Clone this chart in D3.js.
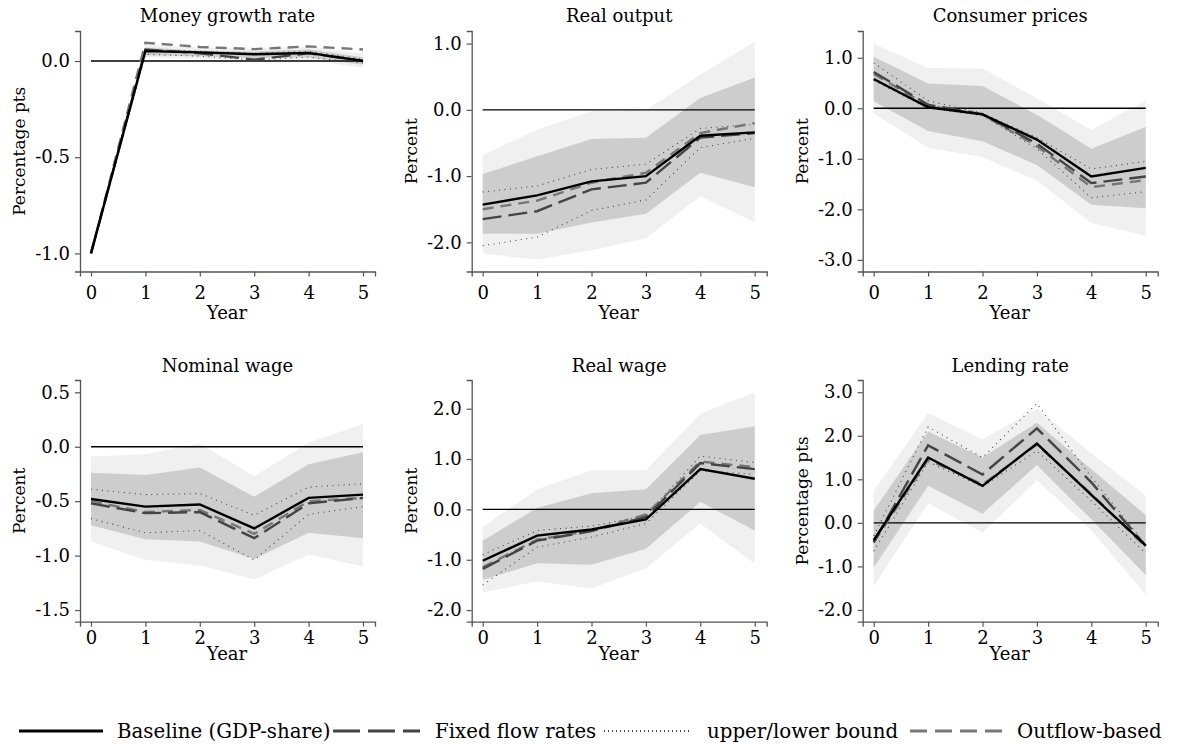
<!DOCTYPE html>
<html>
<head>
<meta charset="utf-8">
<script src="https://cdn.jsdelivr.net/npm/d3@7"></script>
<style>
  body { margin: 0; background: #fff; }
  text { font-family: "DejaVu Serif", serif; fill: #000; }
</style>
</head>
<body>
<div id="chart"></div>
<script>
// ---- data ----
const years = [0, 1, 2, 3, 4, 5];
const titles = ["Money growth rate", "Real output", "Consumer prices",
                "Nominal wage", "Real wage", "Lending rate"];
const yTitles = ["Percentage pts", "Percent", "Percent",
                 "Percent", "Percent", "Percentage pts"];
const yTicks = [
    [-1.0, -0.5, 0.0],
    [-2.0, -1.0, 0.0, 1.0],
    [-3.0, -2.0, -1.0, 0.0, 1.0],
    [-1.5, -1.0, -0.5, 0.0, 0.5],
    [-2.0, -1.0, 0.0, 1.0, 2.0],
    [-2.0, -1.0, 0.0, 1.0, 2.0, 3.0]
];
const yDomains = [
    [-1.094, 0.156], [-2.44, 1.19], [-3.23, 1.53],
    [-1.607, 0.613], [-2.23, 2.57], [-2.27, 3.28]
];

// one row per panel, values for years 0..5
const baseline = [
    [-1.0, 0.052, 0.045, 0.035, 0.042, 0.0],
    [-1.43, -1.29, -1.08, -1.0, -0.39, -0.34],
    [0.58, 0.02, -0.12, -0.62, -1.35, -1.18],
    [-0.48, -0.55, -0.53, -0.75, -0.47, -0.44],
    [-1.02, -0.52, -0.4, -0.2, 0.8, 0.61],
    [-0.4, 1.5, 0.85, 1.82, 0.64, -0.52]
];
const fixedFlow = [
    [-1.0, 0.06, 0.04, 0.007, 0.04, 0.0],
    [-1.65, -1.53, -1.2, -1.1, -0.42, -0.35],
    [0.72, 0.07, -0.12, -0.7, -1.48, -1.35],
    [-0.52, -0.61, -0.6, -0.84, -0.52, -0.47],
    [-1.18, -0.62, -0.43, -0.15, 0.92, 0.8],
    [-0.45, 1.78, 1.11, 2.17, 0.93, -0.53]
];
const outflow = [
    [-1.0, 0.095, 0.073, 0.062, 0.076, 0.06],
    [-1.5, -1.37, -1.1, -0.95, -0.35, -0.2],
    [0.68, 0.05, -0.12, -0.75, -1.56, -1.42],
    [-0.5, -0.6, -0.58, -0.8, -0.5, -0.47],
    [-1.15, -0.6, -0.42, -0.1, 0.95, 0.84],
    [-0.45, 1.45, 0.88, 1.8, 0.66, -0.55]
];
const boundUpper = [
    [-0.99, 0.06, 0.05, 0.04, 0.05, 0.01],
    [-1.24, -1.15, -0.9, -0.82, -0.28, -0.22],
    [0.9, 0.15, -0.1, -0.58, -1.2, -1.05],
    [-0.39, -0.44, -0.43, -0.63, -0.37, -0.34],
    [-0.9, -0.42, -0.33, -0.12, 1.06, 0.93],
    [-0.3, 2.2, 1.5, 2.74, 1.05, -0.5]
];
const boundLower = [
    [-1.0, 0.035, 0.025, 0.005, 0.02, -0.01],
    [-2.05, -1.92, -1.52, -1.36, -0.57, -0.43],
    [0.55, 0.0, -0.14, -0.8, -1.77, -1.65],
    [-0.66, -0.79, -0.77, -1.04, -0.62, -0.55],
    [-1.5, -0.75, -0.55, -0.28, 0.77, 0.7],
    [-0.65, 1.4, 0.83, 1.65, 0.5, -0.7]
];
const innerHi = [
    [-0.99, 0.07, 0.055, 0.05, 0.06, 0.02],
    [-0.97, -0.7, -0.44, -0.42, 0.18, 0.49],
    [1.02, 0.49, 0.44, -0.13, -0.8, -0.37],
    [-0.24, -0.26, -0.19, -0.46, -0.16, -0.05],
    [-0.62, 0.03, 0.32, 0.4, 1.48, 1.65],
    [0.28, 2.1, 1.5, 2.3, 1.23, 0.18]
];
const innerLo = [
    [-1.0, 0.03, 0.025, 0.015, 0.02, -0.02],
    [-1.87, -1.87, -1.7, -1.57, -0.95, -1.17],
    [0.14, -0.45, -0.65, -1.12, -1.91, -1.98],
    [-0.72, -0.85, -0.87, -1.03, -0.79, -0.84],
    [-1.4, -1.07, -1.1, -0.78, 0.15, -0.42],
    [-1.03, 0.85, 0.21, 1.33, 0.08, -1.2]
];
const outerHi = [
    [-0.985, 0.085, 0.07, 0.065, 0.075, 0.04],
    [-0.68, -0.3, -0.02, 0.0, 0.53, 1.03],
    [1.28, 0.8, 0.79, 0.2, -0.43, 0.16],
    [-0.09, -0.07, 0.03, -0.27, 0.04, 0.21],
    [-0.35, 0.4, 0.78, 0.78, 1.9, 2.32],
    [0.73, 2.52, 1.92, 2.62, 1.6, 0.62]
];
const outerLo = [
    [-1.01, 0.02, 0.01, 0.0, 0.005, -0.035],
    [-2.17, -2.26, -2.12, -1.94, -1.3, -1.7],
    [-0.1, -0.78, -0.97, -1.43, -2.27, -2.52],
    [-0.87, -1.04, -1.09, -1.22, -0.99, -1.1],
    [-1.65, -1.43, -1.57, -1.17, -0.28, -1.08],
    [-1.45, 0.45, -0.23, 0.98, -0.17, -1.65]
];

const legendLabels = ["Baseline (GDP-share)", "Fixed flow rates",
                      "upper/lower bound", "Outflow-based"];

// ---- layout ----
const width = 1177, height = 746;
const colX = [80, 471.7, 862.7];      // y-axis position of each column
const rows = [
    { top: 31, bottom: 271.5, title: 16, tick: 293, year: 313 },
    { top: 380, bottom: 621.7, title: 366, tick: 638, year: 654 }
];
const axisLen = 295;

const styles = {
    base:    { stroke: "#000",  width: 2.4, dash: null },
    fixed:   { stroke: "#444",  width: 2.4, dash: "19,7" },
    bound:   { stroke: "#444",  width: 1.1, dash: "1,4.5" },
    outflow: { stroke: "#777",  width: 2.4, dash: "11,7" }
};

const svg = d3.select("#chart")
    .append("svg")
    .attr("width", width)
    .attr("height", height)
    .attr("viewBox", [0, 0, width, height]);

titles.forEach((title, i) => {
    const row = rows[Math.floor(i / 3)];
    const ax = colX[i % 3];

    const x = d3.scaleLinear().domain([-0.202, 5.22]).range([ax, ax + axisLen]);
    const y = d3.scaleLinear().domain(yDomains[i]).range([row.bottom, row.top]);

    const g = svg.append("g");

    const area = (lo, hi) => d3.area()
        .x((d, k) => x(years[k]))
        .y0((d, k) => y(lo[k]))
        .y1((d, k) => y(hi[k]))(years);

    g.append("path").attr("d", area(outerLo[i], outerHi[i])).attr("fill", "#f0f0f0");
    g.append("path").attr("d", area(innerLo[i], innerHi[i])).attr("fill", "#cdcdcd");

    // zero line
    g.append("line")
        .attr("x1", x(0)).attr("x2", x(5))
        .attr("y1", y(0)).attr("y2", y(0))
        .attr("stroke", "#000").attr("stroke-width", 1.4);

    const line = d3.line().x((d, k) => x(years[k])).y(d => y(d));
    const series = [
        [boundUpper[i], styles.bound],
        [boundLower[i], styles.bound],
        [outflow[i], styles.outflow],
        [fixedFlow[i], styles.fixed],
        [baseline[i], styles.base]
    ];
    series.forEach(([vals, st]) => {
        g.append("path")
            .attr("d", line(vals))
            .attr("fill", "none")
            .attr("stroke", st.stroke)
            .attr("stroke-width", st.width)
            .attr("stroke-dasharray", st.dash);
    });

    // axes
    const yAxis = g.append("g")
        .attr("transform", `translate(${ax},0)`)
        .call(d3.axisLeft(y).tickValues(yTicks[i]).tickSize(5).tickPadding(5)
            .tickFormat(d => d.toFixed(1)));
    const xAxis = g.append("g")
        .attr("transform", `translate(0,${row.bottom})`)
        .call(d3.axisBottom(x).tickValues(years).tickSize(5).tickFormat(d3.format("d")));

    [yAxis, xAxis].forEach(a => {
        a.select(".domain").attr("stroke", "#555").attr("stroke-width", 1.3);
        a.selectAll(".tick line").attr("stroke", "#555").attr("stroke-width", 1.2);
        a.selectAll(".tick text")
            .style("font-family", '"DejaVu Serif", serif')
            .style("font-size", "18px")
            .attr("fill", "#000");
    });
    xAxis.selectAll(".tick text")
        .attr("y", row.tick - row.bottom)
        .attr("dy", "0.36em");

    g.append("text")
        .attr("x", ax + axisLen / 2)
        .attr("y", row.title)
        .attr("dy", "0.36em")
        .attr("text-anchor", "middle")
        .style("font-size", "18px")
        .text(title);

    g.append("text")
        .attr("x", x(2.5))
        .attr("y", row.year)
        .attr("dy", "0.36em")
        .attr("text-anchor", "middle")
        .style("font-size", "18px")
        .text("Year");

    g.append("text")
        .attr("transform", `translate(${ax - 61},${(row.top + row.bottom) / 2}) rotate(-90)`)
        .attr("dy", "0.36em")
        .attr("text-anchor", "middle")
        .style("font-size", "17px")
        .text(yTitles[i]);
});

// ---- legend ----
const legendY = 731;
const legendItems = [
    { x1: 19,  x2: 103,  tx: 117,  st: styles.base,    dash: null },
    { x1: 333, x2: 420,  tx: 435,  st: styles.fixed,   dash: "27,8" },
    { x1: 604, x2: 690,  tx: 707,  st: styles.bound,   dash: "1,3" },
    { x1: 910, x2: 1003, tx: 1017, st: styles.outflow, dash: "17,8" }
];
const legend = svg.append("g");
legendItems.forEach((it, k) => {
    legend.append("line")
        .attr("x1", it.x1).attr("x2", it.x2)
        .attr("y1", legendY).attr("y2", legendY)
        .attr("stroke", it.st.stroke)
        .attr("stroke-width", it.st.width + 0.8)
        .attr("stroke-dasharray", it.dash);
    legend.append("text")
        .attr("x", it.tx)
        .attr("y", legendY)
        .attr("dy", "0.36em")
        .style("font-size", "19.8px")
        .text(legendLabels[k]);
});
</script>
</body>
</html>
